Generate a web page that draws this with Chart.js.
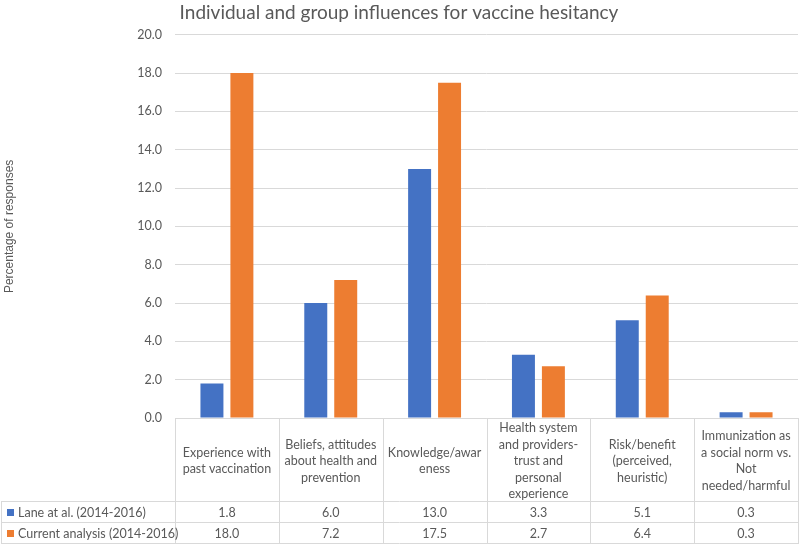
<!DOCTYPE html>
<html>
<head>
<meta charset="utf-8">
<script src="https://cdn.jsdelivr.net/npm/chart.js@4/dist/chart.umd.min.js"></script>
<style>
  html, body { margin: 0; padding: 0; background: #fff; }
  #wrap { width: 800px; height: 545px; position: relative; }
</style>
</head>
<body>
<div id="wrap"><canvas id="c"></canvas></div>
<script>
const chartTitle = 'Individual and group influences for vaccine hesitancy';
const yAxisTitle = 'Percentage of responses';
const categories = [
  ['Experience with', 'past vaccination'],
  ['Beliefs, attitudes', 'about health and', 'prevention'],
  ['Knowledge/awar', 'eness'],
  ['Health system', 'and providers-', 'trust and', 'personal', 'experience'],
  ['Risk/benefit', '(perceived,', 'heuristic)'],
  ['Immunization as', 'a social norm vs.', 'Not', 'needed/harmful']
];
const seriesNames = ['Lane at al. (2014-2016)', 'Current analysis (2014-2016)'];
const laneValues = [1.8, 6.0, 13.0, 3.3, 5.1, 0.3];
const currentValues = [18.0, 7.2, 17.5, 2.7, 6.4, 0.3];
const yTicks = { min: 0, max: 20, step: 2 };

const BLUE = '#4472C4';
const ORANGE = '#ED7D31';
const TEXT = '#595959';
const GRID = '#D9D9D9';
const FONT = 'Lato, "Open Sans", sans-serif';

const dataTablePlugin = {
  id: 'dataTable',
  afterDraw(chart) {
    const ctx = chart.ctx;
    const xs = chart.scales.x;
    const area = chart.chartArea;
    const n = categories.length;
    const colW = (area.right - area.left) / n;
    const top = area.bottom;
    const headerBottom = top + 84;
    const row1Bottom = headerBottom + 21;
    const row2Bottom = row1Bottom + 21;
    ctx.save();
    ctx.strokeStyle = GRID;
    ctx.lineWidth = 1;
    ctx.beginPath();
    for (let i = 0; i <= n; i++) {
      const x = Math.round(area.left + i * colW) + 0.5;
      ctx.moveTo(x, top);
      ctx.lineTo(x, row2Bottom);
    }
    ctx.moveTo(1.5, headerBottom);
    ctx.lineTo(1.5, row2Bottom);
    [headerBottom, row1Bottom, row2Bottom].forEach(y => {
      const yy = Math.round(y) - 0.5;
      ctx.moveTo(1, yy);
      ctx.lineTo(area.right, yy);
    });
    ctx.moveTo(area.left, Math.round(top) + 0.5);
    ctx.lineTo(area.right, Math.round(top) + 0.5);
    ctx.stroke();

    ctx.fillStyle = TEXT;
    ctx.font = '12.5px ' + FONT;
    ctx.textAlign = 'center';
    ctx.textBaseline = 'middle';
    const lh = 16.5;
    categories.forEach((lines, i) => {
      const cx = xs.getPixelForValue(i);
      const cy = (top + headerBottom) / 2 + 1;
      const startY = cy - (lines.length - 1) * lh / 2;
      lines.forEach((t, k) => ctx.fillText(t, cx, startY + k * lh));
    });
    const rows = [laneValues, currentValues];
    const rowMid = [(headerBottom + row1Bottom) / 2, (row1Bottom + row2Bottom) / 2];
    rows.forEach((vals, r) => {
      vals.forEach((v, i) => {
        ctx.fillText(v.toFixed(1), xs.getPixelForValue(i), rowMid[r]);
      });
    });
    ctx.textAlign = 'left';
    [BLUE, ORANGE].forEach((col, r) => {
      ctx.fillStyle = col;
      ctx.fillRect(7, rowMid[r] - 3.5, 7, 7);
      ctx.fillStyle = TEXT;
      ctx.fillText(seriesNames[r], 18, rowMid[r]);
    });
    ctx.restore();
  }
};

new Chart(document.getElementById('c'), {
  type: 'bar',
  data: {
    labels: categories.map(l => l.join(' ')),
    datasets: [
      { label: seriesNames[0], data: laneValues, backgroundColor: BLUE,
        categoryPercentage: 0.577, barPercentage: 0.767 },
      { label: seriesNames[1], data: currentValues, backgroundColor: ORANGE,
        categoryPercentage: 0.577, barPercentage: 0.767 }
    ]
  },
  options: {
    responsive: true,
    maintainAspectRatio: false,
    animation: false,
    layout: { padding: { left: 0, right: 2, top: 0, bottom: 127 } },
    plugins: {
      legend: { display: false },
      tooltip: { enabled: false },
      title: {
        display: true,
        text: chartTitle,
        color: TEXT,
        font: { family: FONT, size: 19, weight: 'normal' },
        padding: { top: 1, bottom: 11 }
      }
    },
    scales: {
      x: { display: false },
      y: {
        min: yTicks.min,
        max: yTicks.max,
        ticks: {
          stepSize: yTicks.step,
          color: TEXT,
          font: { family: FONT, size: 12.5 },
          padding: 13,
          callback: v => v.toFixed(1)
        },
        grid: { color: GRID, drawTicks: false },
        border: { display: false },
        title: {
          display: true,
          text: yAxisTitle,
          color: TEXT,
          font: { family: '"Liberation Sans", Arial, sans-serif', size: 12 },
          padding: { top: 2, bottom: 0 }
        },
        afterFit(scale) { scale.width = 175; }
      }
    }
  },
  plugins: [dataTablePlugin]
});
</script>
</body>
</html>
